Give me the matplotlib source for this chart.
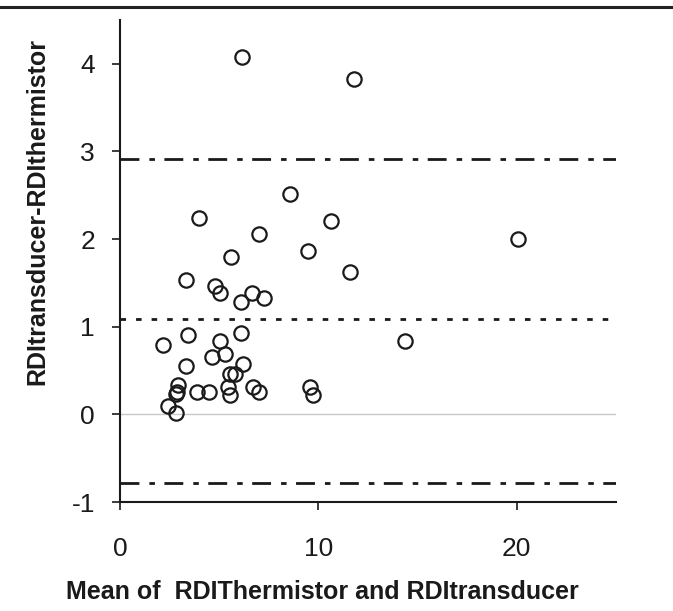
import numpy as np
import matplotlib.pyplot as plt
from matplotlib.lines import Line2D

plt.rcParams['font.family'] = ['Liberation Sans', 'DejaVu Sans']
plt.rcParams['axes.unicode_minus'] = False

# mean of the two RDI values (x) and their difference (y)
mean_rdi = [6.13, 11.8, 8.56, 3.99, 10.64, 7.0, 9.48, 5.57, 11.57, 3.34,
            4.78, 5.04, 6.63, 7.25, 6.08, 20.04, 14.35,
            3.44, 2.15, 5.04, 6.08, 4.63, 5.29, 3.34, 6.21, 5.54, 5.79,
            2.94, 2.85, 2.82, 3.86, 4.50, 5.45, 5.55, 6.71, 7.0, 9.60,
            9.73, 2.43, 2.82]
diff_rdi = [4.08, 3.83, 2.51, 2.24, 2.21, 2.06, 1.86, 1.79, 1.62, 1.53,
            1.47, 1.38, 1.38, 1.33, 1.28, 2.0, 0.84,
            0.91, 0.79, 0.84, 0.93, 0.66, 0.69, 0.55, 0.58, 0.46, 0.46,
            0.34, 0.26, 0.23, 0.25, 0.25, 0.31, 0.22, 0.31, 0.25, 0.31,
            0.22, 0.10, 0.01]

upper_loa = 2.91
mean_diff = 1.09
lower_loa = -0.78

fig = plt.figure(figsize=(6.73, 6.11), dpi=100)
ax = fig.add_axes([120/673, 1 - 502/611, 496/673, 482/611])

ax.axhline(0, color='#c8c8cc', lw=1, zorder=1)
dashdot = (0, (6.8, 3.6, 2.0, 3.4))
ax.axhline(upper_loa, color='#1a1a1a', lw=2, linestyle=dashdot)
ax.axhline(lower_loa, color='#1a1a1a', lw=2, linestyle=dashdot)
ax.axhline(mean_diff, color='#1a1a1a', lw=2, linestyle=(0, (2.0, 3.6)))

ax.plot(mean_rdi, diff_rdi, 'o', ms=10.3, mfc='none', mec='#1a1a1a', mew=1.6,
        zorder=3)

ax.set_xlim(0, 25)
ax.set_ylim(-1, 4.5)
ax.set_xticks([0, 10, 20])
ax.set_yticks([-1, 0, 1, 2, 3, 4])
ax.tick_params(direction='out', length=6, width=1.2, labelsize=19,
               color='#1a1a1a', labelcolor='#1a1a1a')
ax.tick_params(axis='x', pad=19)
ax.tick_params(axis='y', pad=12)
for s in ['top', 'right']:
    ax.spines[s].set_visible(False)
for s in ['left', 'bottom']:
    ax.spines[s].set_linewidth(1.5)
    ax.spines[s].set_color('#1a1a1a')

fig.text(322/673, 1 - 592/611, 'Mean of  RDIThermistor and RDItransducer',
         ha='center', va='center', fontsize=18, fontweight='bold',
         color='#1a1a1a')
fig.text(37/673, 1 - 211/611, 'RDItransducer-RDIthermistor', rotation=90,
         ha='center', va='center', fontsize=18, fontweight='bold',
         color='#1a1a1a')

# thick rule across the top of the figure
fig.add_artist(Line2D([0, 1], [1 - 7/611, 1 - 7/611], transform=fig.transFigure,
                      color='#222222', lw=2.2))

fig.savefig('out.png', dpi=100)
